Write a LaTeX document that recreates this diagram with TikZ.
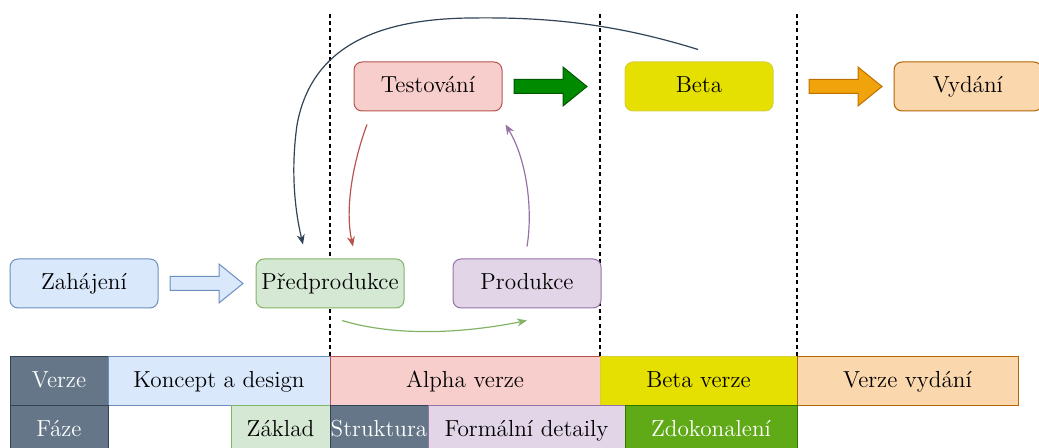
\documentclass[tikz,border=0pt]{standalone}
\usepackage{tikz}
\usepackage{amsmath}
\usetikzlibrary{arrows.meta,calc}

\definecolor{blueFill}{HTML}{DAE8FC}
\definecolor{blueLine}{HTML}{6C8EBF}
\definecolor{greenFill}{HTML}{D5E8D4}
\definecolor{greenLine}{HTML}{82B366}
\definecolor{redFill}{HTML}{F8CECC}
\definecolor{redLine}{HTML}{B85450}
\definecolor{purpleFill}{HTML}{E1D5E7}
\definecolor{purpleLine}{HTML}{9673A6}
\definecolor{orangeFill}{HTML}{FAD7AC}
\definecolor{orangeLine}{HTML}{B46504}
\definecolor{yellowFill}{HTML}{E6E000}
\definecolor{yellowLine}{HTML}{D7D03A}
\definecolor{darkFill}{HTML}{647687}
\definecolor{darkLine}{HTML}{314354}
\definecolor{zdokFill}{HTML}{60A917}
\definecolor{zdokLine}{HTML}{2D7600}
\definecolor{arrowGreenFill}{HTML}{008A00}
\definecolor{arrowGreenLine}{HTML}{005700}
\definecolor{arrowOrangeFill}{HTML}{F0A30A}
\definecolor{arrowOrangeLine}{HTML}{BD7000}

\begin{document}
\begin{tikzpicture}[x=0.5pt, y=-0.5pt,
    font=\fontsize{11.6}{13.9}\selectfont,
    phase/.style={draw, rounded corners=4pt, line width=0.5pt, minimum width=74pt, minimum height=24.5pt,
      inner sep=0pt, text height=8pt, text depth=2.4pt},
    cell/.style={draw, line width=0.5pt, minimum height=24.5pt, inner sep=0pt, text height=8pt, text depth=2.4pt},
    flow/.style={line width=0.6pt, -{Stealth[length=5pt,width=4pt]}}]
        \useasboundingbox (0,0) rectangle (1039,448);

        % delici cary
        \foreach \x in {330,600,797}
          \draw[line width=0.6pt, dash pattern=on 2pt off 1.6pt] (\x,14) -- (\x,357);

        % faze vyvoje
        \node[phase, fill=blueFill, draw=blueLine] (zahajeni) at (84,283.5) {Zahájení};
        \node[phase, fill=greenFill, draw=greenLine] (predprodukce) at (330,283.5) {Předprodukce};
        \node[phase, fill=purpleFill, draw=purpleLine] (produkce) at (527,283.5) {Produkce};
        \node[phase, fill=redFill, draw=redLine] (testovani) at (428,86.5) {Testování};
        \node[phase, fill=yellowFill, draw=yellowLine] (beta) at (699,86.5) {Beta};
        \node[phase, fill=orangeFill, draw=orangeLine] (vydani) at (968,86.5) {Vydání};

        % blokove sipky
        \foreach \x/\y/\f/\d in {170/283.5/blueFill/blueLine, 514/86.5/arrowGreenFill/arrowGreenLine, 809/86.5/arrowOrangeFill/arrowOrangeLine}
          \draw[fill=\f, draw=\d, line width=0.5pt] (\x,\y-7) -- ++(49,0) -- ++(0,-12.5) -- ++(24,19.5)
            -- ++(-24,19.5) -- ++(0,-12.5) -- ++(-49,0) -- cycle;

        % cyklus
        \draw[flow, draw=greenLine] ($(predprodukce.south)+(12,12)$) .. controls (400,338) and (470,332) .. ($(produkce.south)+(0,12)$);
        \draw[flow, draw=redLine] ($(testovani.south)+(-61,13)$) .. controls (352,165) and (345,210) .. ($(predprodukce.north)+(23,-12)$);
        \draw[flow, draw=purpleLine] ($(produkce.north)+(0,-12)$) .. controls (533,210) and (527,160) .. ($(testovani.south east)+(3,13)$);
        \draw[flow, draw=darkLine] ($(beta.north)+(-1,-12)$) .. controls (610,22) and (540,17) .. (470,18)
          .. controls (385,19) and (312,42) .. (297,125) .. controls (290,175) and (296,215) .. ($(predprodukce.north)+(-27,-14)$);

        % tabulka verzi
        \node[cell, fill=darkFill, draw=darkLine, text=white, minimum width=49pt] (verze) at (59,381.5) {Verze};
        \node[cell, fill=blueFill, draw=blueLine, minimum width=111pt] (koncept) at (219,381.5) {Koncept a design};
        \node[cell, fill=redFill, draw=redLine, minimum width=135pt] (alpha) at (465,381.5) {Alpha verze};
        \node[cell, fill=yellowFill, draw=yellowLine, minimum width=98.5pt] (betaverze) at (698.5,381.5) {Beta verze};
        \node[cell, fill=orangeFill, draw=orangeLine, minimum width=110.5pt] (vydaniverze) at (907.5,381.5) {Verze vydání};

        % tabulka fazi
        \node[cell, fill=darkFill, draw=darkLine, text=white, minimum width=49pt] (faze) at (59,430.5) {Fáze};
        \node[cell, fill=greenFill, draw=greenLine, minimum width=49.5pt] (zaklad) at (280.5,430.5) {Základ};
        \node[cell, fill=darkFill, draw=darkLine, text=white, minimum width=49pt] (struktura) at (379,430.5) {Struktura};
        \node[cell, fill=purpleFill, draw=purpleLine, minimum width=98.5pt] (detaily) at (526.5,430.5) {Formální detaily};
        \node[cell, fill=zdokFill, draw=zdokLine, text=white, minimum width=86pt] (zdokonaleni) at (711,430.5) {Zdokonalení};
    \end{tikzpicture}
\end{document}
